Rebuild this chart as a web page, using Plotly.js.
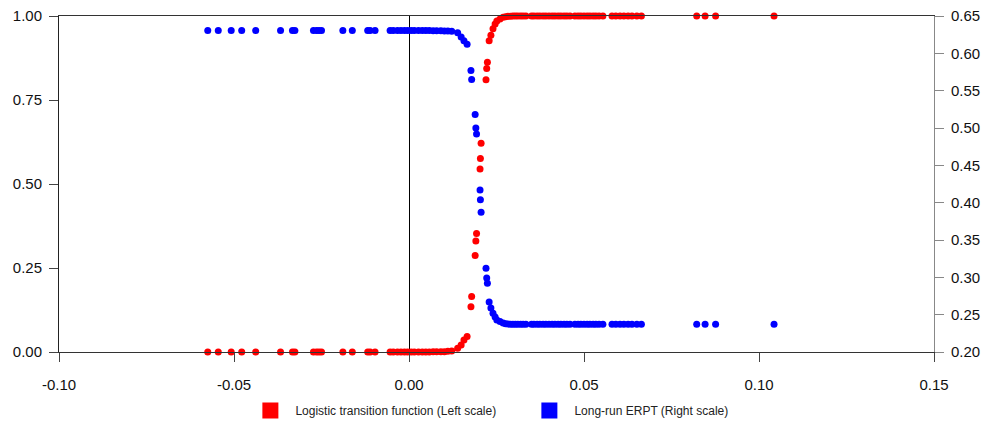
<!DOCTYPE html>
<html>
<head>
<meta charset="utf-8">
<script src="https://cdn.plot.ly/plotly-3.0.1.min.js"></script>
<style>html,body{margin:0;padding:0;background:#fff;}#chart{width:988px;height:426px;}</style>
</head>
<body>
<div id="chart"></div>
<script>
// Transition variable (x) shared by both series
const xValues = [
  -0.0575, -0.0545, -0.0508, -0.0478, -0.0438, -0.0367, -0.0333, -0.0326, -0.0273, -0.0264,
  -0.0257, -0.0250, -0.0189, -0.0162, -0.0118, -0.0111, -0.0097, -0.0054, -0.0045, -0.0033,
  -0.0023, -0.0013, -0.0004, 0.0006, 0.0015, 0.0027, 0.0038, 0.0048, 0.0058, 0.0069,
  0.0079, 0.0091, 0.0101, 0.0111, 0.0122,
  0.0139, 0.0149, 0.0157, 0.0166, 0.0177, 0.0179, 0.0189, 0.0191, 0.0193, 0.0203,
  0.0204, 0.0206, 0.0220, 0.0222, 0.0224, 0.0229, 0.0234, 0.0240, 0.0246, 0.0251,
  0.0260, 0.0269,
  0.0276, 0.0283, 0.0290, 0.0297, 0.0304, 0.0311, 0.0319, 0.0326, 0.0334, 0.0350,
  0.0357, 0.0366, 0.0374, 0.0383, 0.0391, 0.0400, 0.0409, 0.0417, 0.0426, 0.0434,
  0.0443, 0.0451, 0.0460, 0.0474, 0.0483, 0.0491, 0.0500, 0.0509, 0.0517, 0.0526,
  0.0534, 0.0543, 0.0554, 0.0580, 0.0591, 0.0603, 0.0614, 0.0626, 0.0637, 0.0651,
  0.0664, 0.0822, 0.0846, 0.0876, 0.1043
];
// Logistic transition function (left scale)
const logisticValues = [
  0.000, 0.000, 0.000, 0.000, 0.000, 0.000, 0.000, 0.000, 0.000, 0.000,
  0.000, 0.000, 0.000, 0.000, 0.000, 0.000, 0.000, 0.000, 0.000, 0.000,
  0.000, 0.000, 0.000, 0.000, 0.000, 0.000, 0.000, 0.000, 0.000, 0.001,
  0.001, 0.001, 0.001, 0.002, 0.003,
  0.011, 0.021, 0.036, 0.046, 0.135, 0.165, 0.287, 0.330, 0.353, 0.545,
  0.576, 0.621, 0.810, 0.844, 0.862, 0.926, 0.943, 0.962, 0.976, 0.985,
  0.991, 0.996,
  0.998, 0.999, 0.999, 1.000, 1.000, 1.000, 1.000, 1.000, 1.000, 1.000,
  1.000, 1.000, 1.000, 1.000, 1.000, 1.000, 1.000, 1.000, 1.000, 1.000,
  1.000, 1.000, 1.000, 1.000, 1.000, 1.000, 1.000, 1.000, 1.000, 1.000,
  1.000, 1.000, 1.000, 1.000, 1.000, 1.000, 1.000, 1.000, 1.000, 1.000,
  1.000, 1.000, 1.000, 1.000, 1.000
];
// Long-run ERPT (right scale)
const erptValues = [
  0.6305, 0.6305, 0.6305, 0.6305, 0.6305, 0.6305, 0.6305, 0.6305, 0.6305, 0.6305,
  0.6305, 0.6305, 0.6305, 0.6305, 0.6305, 0.6305, 0.6305, 0.6305, 0.6305, 0.6305,
  0.6305, 0.6305, 0.6305, 0.6305, 0.6305, 0.6305, 0.6305, 0.6305, 0.6305, 0.6302,
  0.6302, 0.6301, 0.6300, 0.6298, 0.6295,
  0.6276, 0.622, 0.617, 0.612, 0.577, 0.565, 0.518, 0.500, 0.492, 0.417,
  0.404, 0.387, 0.312, 0.299, 0.292, 0.267, 0.259, 0.252, 0.247, 0.243,
  0.241, 0.239,
  0.2378, 0.2374, 0.2373, 0.2371, 0.2371, 0.2371, 0.2371, 0.2371, 0.2371, 0.2371,
  0.2371, 0.2371, 0.2371, 0.2371, 0.2371, 0.2371, 0.2371, 0.2371, 0.2371, 0.2371,
  0.2371, 0.2371, 0.2371, 0.2371, 0.2371, 0.2371, 0.2371, 0.2371, 0.2371, 0.2371,
  0.2371, 0.2371, 0.2371, 0.2371, 0.2371, 0.2371, 0.2371, 0.2371, 0.2371, 0.2371,
  0.2371, 0.2371, 0.2371, 0.2371, 0.2371
];
const seriesNames = ["Logistic transition function (Left scale)", "Long-run ERPT (Right scale)"];
const xTicks = [-0.10, -0.05, 0.00, 0.05, 0.10, 0.15];
const xTickText = ["-0.10", "-0.05", "0.00", "0.05", "0.10", "0.15"];
const leftTicks = [0, 0.25, 0.5, 0.75, 1.0];
const leftTickText = ["0.00", "0.25", "0.50", "0.75", "1.00"];
const rightTicks = [0.20, 0.25, 0.30, 0.35, 0.40, 0.45, 0.50, 0.55, 0.60, 0.65];
const rightTickText = ["0.20", "0.25", "0.30", "0.35", "0.40", "0.45", "0.50", "0.55", "0.60", "0.65"];

const FONT = '"Liberation Sans", Arial, sans-serif';
const TICKFONT = {family: FONT, size: 15, color: '#111'};

const traces = [
  {x: xValues, y: erptValues, yaxis: 'y2', type: 'scatter', mode: 'markers',
   marker: {color: '#0000ff', size: 7}, showlegend: false, cliponaxis: false},
  {x: xValues, y: logisticValues, yaxis: 'y', type: 'scatter', mode: 'markers',
   marker: {color: '#ff0000', size: 7}, showlegend: false, cliponaxis: false},
  {x: [null], y: [null], type: 'scatter', mode: 'markers', name: seriesNames[0],
   marker: {color: '#ff0000', size: 16, symbol: 'square'}},
  {x: [null], y: [null], type: 'scatter', mode: 'markers', name: seriesNames[1],
   marker: {color: '#0000ff', size: 16, symbol: 'square'}}
];

const layout = {
  width: 988, height: 426,
  margin: {l: 59, r: 54, t: 16, b: 74, pad: 0, autoexpand: false},
  paper_bgcolor: '#ffffff', plot_bgcolor: '#ffffff',
  font: {family: FONT, size: 13, color: '#111'},
  showlegend: true,
  legend: {orientation: 'h', x: 0.213, xanchor: 'left', y: -0.131, yanchor: 'top',
           itemwidth: 40, entrywidth: 224, entrywidthmode: 'pixels',
           font: {family: FONT, size: 12, color: '#222222'}, bgcolor: 'rgba(0,0,0,0)'},
  xaxis: {range: [-0.10, 0.15], tickvals: xTicks, ticktext: xTickText,
          ticks: 'outside', ticklen: 9, tickcolor: '#444', showgrid: false,
          ticklabelstandoff: 10,
          showline: true, linecolor: '#333', linewidth: 1, mirror: true,
          zeroline: true, zerolinecolor: '#000', zerolinewidth: 1,
          tickfont: TICKFONT, fixedrange: true},
  yaxis: {range: [0, 1], tickvals: leftTicks, ticktext: leftTickText,
          ticks: 'outside', ticklen: 9, tickcolor: '#444', showgrid: false,
          ticklabelstandoff: 4,
          showline: true, linecolor: '#222', linewidth: 1, zeroline: false,
          tickfont: TICKFONT, fixedrange: true},
  yaxis2: {range: [0.20, 0.65], tickvals: rightTicks, ticktext: rightTickText,
           overlaying: 'y', side: 'right',
           ticks: 'outside', ticklen: 9, tickcolor: '#888', showgrid: false,
           ticklabelstandoff: 4,
           showline: true, linecolor: '#888', linewidth: 1, zeroline: false,
           tickfont: TICKFONT, fixedrange: true}
};

Plotly.newPlot('chart', traces, layout, {displayModeBar: false, staticPlot: true});
</script>
</body>
</html>
